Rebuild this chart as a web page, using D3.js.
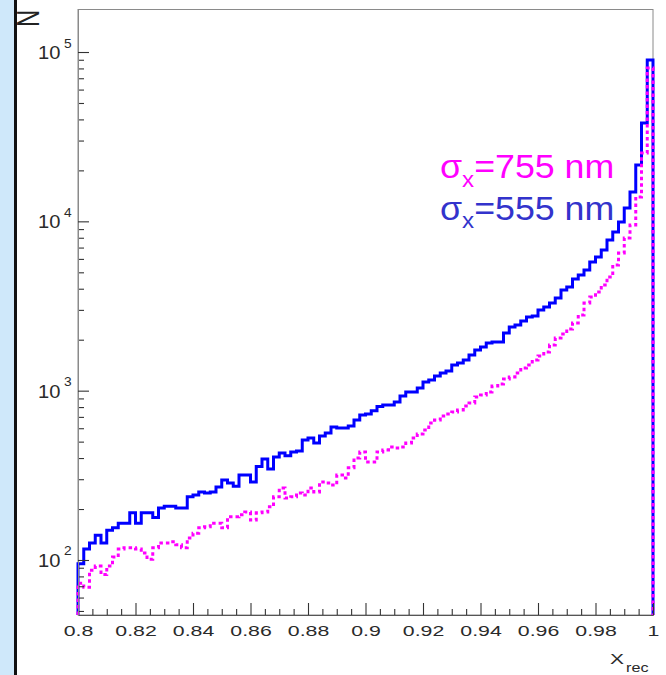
<!DOCTYPE html>
<html><head><meta charset="utf-8">
<script src="https://cdn.jsdelivr.net/npm/d3@7"></script>
<style>body{margin:0;background:#fff}svg{display:block}</style>
</head><body>
<script>
// ---- data ----
const xMin = 0.8, xMax = 1.0;
const counts555 = [95,116,126,140,126,150,155,165,165,190, 165,190,190,178,203,208,208,203,203,236,
  242,252,249,252,270,297,285,273,318,318, 289,357,395,345,406,428,412,434,440,511,
  525,491,540,563,610,602,602,619,671,718, 728,760,805,823,823,858,931,982,982,1037,
  1126,1157,1221,1272,1307,1418,1458,1518,1625,1740, 1812,1913,1940,1940,2192,2378,2444,2580,2725,2762,
  2996,3121,3295,3528,3935,4099,4568,4825,5165,5756, 6161,6779,7767,8660,9919,12000,14900,21500,38100,89800];
const counts755 = [73,69,87,92,82,92,104,116,118,118, 116,110,101,118,126,126,128,123,118,135,
  144,155,157,165,165,155,180,180,185,192, 172,190,192,206,236,266,232,236,249,242,
  266,252,289,285,277,318,305,350,400,435, 379,379,435,447,465,459,465,491,526,555,
  586,645,671,709,728,749,769,812,846,918, 943,983,1066,1096,1173,1205,1272,1362,1419,1518,
  1603,1693,1862,2048,2162,2315,2512,2800,3295,3577, 3829,4212,4694,5526,6507,7981,9523,13940,25350,80550];
const xTickLabels = ["0.8","0.82","0.84","0.86","0.88","0.9","0.92","0.94","0.96","0.98","1"];
const yDecades = [2,3,4,5];
const legendLabels = [
  {sub:"x", text:"=755 nm", color:"#ff00ff"},
  {sub:"x", text:"=555 nm", color:"#3333cc"}
];

// ---- layout ----
const W = 666, H = 675;
const L = 78, R = 653, T = 9.5, B = 615;
const svg = d3.select("body").append("svg").attr("width", W).attr("height", H);

// background strip
svg.append("rect").attr("x",0).attr("y",0).attr("width",14).attr("height",H).attr("fill","#cfe8fa");

const x = d3.scaleLinear().domain([xMin, xMax]).range([L, R]);
const y = d3.scaleLog().domain([47.33, 178270]).range([B, T]);

// frame
svg.append("rect").attr("x",L).attr("y",T).attr("width",R-L).attr("height",B-T)
  .attr("fill","none").attr("stroke","#8a8a8a").attr("stroke-width",1);

// histogram paths
function histPath(vals){
  const w = (xMax - xMin) / vals.length;
  const p = d3.path();
  p.moveTo(x(xMin), B);
  vals.forEach((v,i) => {
    p.lineTo(x(xMin + i*w), y(v));
    p.lineTo(x(xMin + (i+1)*w), y(v));
  });
  p.lineTo(x(xMax), B);
  return p.toString();
}
svg.append("clipPath").attr("id","clip").append("rect")
  .attr("x",L-2).attr("y",T).attr("width",R-L+4).attr("height",B-T);
const g = svg.append("g").attr("clip-path","url(#clip)");
g.append("path").attr("d", histPath(counts555)).attr("fill","none")
  .attr("stroke","#0000ff").attr("stroke-width",3).attr("stroke-linejoin","miter");
g.append("path").attr("d", histPath(counts755)).attr("fill","none")
  .attr("stroke","#ff00ff").attr("stroke-width",3).attr("stroke-dasharray","3.5,3");

// x axis
const xMajor = xTickLabels.map(Number);
const xMinor = d3.range(0, 41).map(i => +(xMin + i*0.005).toFixed(3))
  .filter(v => !xMajor.some(m => Math.abs(m - v) < 1e-9));
const xa = svg.append("g").attr("transform", `translate(0,${B})`);
xa.append("g").call(d3.axisBottom(x).tickValues(xMinor).tickSize(-6).tickSizeOuter(0).tickFormat(""));
const xaM = xa.append("g").call(d3.axisBottom(x).tickValues(xMajor).tickSize(-12).tickSizeOuter(0)
  .tickFormat((d,i) => xTickLabels[i]));
xa.selectAll(".domain").attr("stroke","#555");
xa.selectAll(".tick line").attr("stroke","#333").attr("stroke-width",1.1);
xaM.selectAll(".tick text").attr("y",null).attr("dy",null)
  .attr("transform","translate(0,21) scale(1.42,1)")
  .attr("font-family","'Liberation Sans', Arial, sans-serif").attr("font-size",15).attr("fill","#2a2a2a");

// y axis
const yMajor = yDecades.map(e => Math.pow(10, e));
const yMinor = [];
[1,2,3,4,5].forEach(e => { for (let k=2;k<=9;k++){ const v=k*Math.pow(10,e-1); if (v>y.domain()[0] && v<y.domain()[1]) yMinor.push(v);} });
const ya = svg.append("g").attr("transform", `translate(${L},0)`);
ya.append("g").call(d3.axisLeft(y).tickValues(yMinor).tickSize(-6).tickSizeOuter(0).tickFormat(""));
ya.append("g").call(d3.axisLeft(y).tickValues(yMajor).tickSize(-11).tickSizeOuter(0).tickFormat(""));
ya.selectAll(".domain").attr("stroke","#8a8a8a");
ya.selectAll(".tick line").attr("stroke","#333").attr("stroke-width",1.1);

const yl = svg.append("g").attr("font-family","'Liberation Sans', Arial, sans-serif").attr("fill","#2a2a2a");
yDecades.forEach(e => {
  const yy = y(Math.pow(10, e));
  yl.append("text").attr("transform",`translate(38,${yy+7}) scale(1.15,1)`).attr("font-size",17.5).text("10");
  yl.append("text").attr("transform",`translate(64,${yy-4.5}) scale(1.1,1)`).attr("font-size",12.5).text(String(e));
});

// axis titles
const tf = "'Liberation Sans', Arial, sans-serif";
svg.append("text").attr("transform","translate(610,664) scale(1.4,1)").attr("font-family",tf)
  .attr("font-size",15).attr("fill","#2a2a2a").text("X");
svg.append("text").attr("transform","translate(626,671.5) scale(1.35,1)").attr("font-family",tf)
  .attr("font-size",12).attr("fill","#2a2a2a").text("rec");
svg.append("text").attr("transform","translate(39,27) scale(1.3,1) rotate(-90)").attr("font-family",tf)
  .attr("font-size",24).attr("fill","#222").text("N");

// black separator line
svg.append("rect").attr("x",14).attr("y",0).attr("width",3).attr("height",H).attr("fill","#111");

// legend
legendLabels.forEach((d,i) => {
  const t = svg.append("text").attr("transform",`translate(440,${178.3 + i*41.7}) scale(1.1,1)`)
    .attr("font-family",tf).attr("font-size",32.5).attr("fill",d.color);
  t.append("tspan").text("σ");
  t.append("tspan").attr("font-size",22).attr("dy",8.4).text(d.sub);
  t.append("tspan").attr("dy",-8.4).text(d.text);
});
</script>
</body></html>
